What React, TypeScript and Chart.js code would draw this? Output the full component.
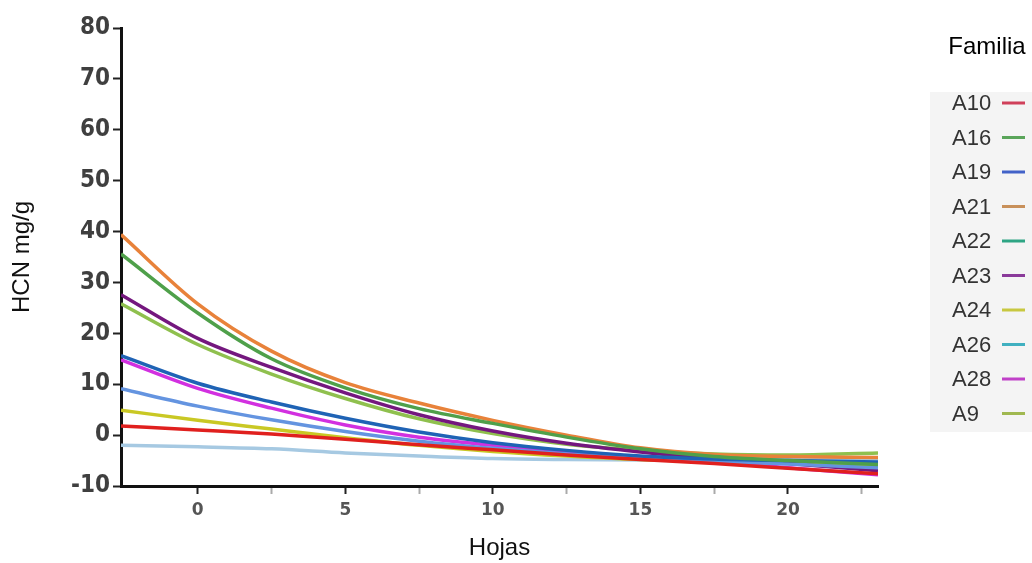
import React, { useEffect, useRef } from "react";
import { Chart, registerables } from "chart.js";

Chart.register(...registerables);

// ---- data ----
const hojas = [-2.6, 0, 2.5, 5, 7.5, 10, 12.5, 15, 17.5, 20, 23.05];
const familias = ["A10", "A16", "A19", "A21", "A22", "A23", "A24", "A26", "A28", "A9"];

const A10 = [1.8, 1.0, 0.2, -0.8, -1.9, -2.9, -3.9, -4.8, -5.6, -6.5, -7.6];
const A16 = [35.6, 24.0, 15.0, 9.3, 5.2, 2.3, -0.4, -2.7, -4.2, -5.0, -5.8];
const A19 = [15.6, 10.2, 6.5, 3.3, 0.6, -1.5, -3.0, -4.1, -4.7, -5.0, -5.3];
const A21 = [39.4, 25.8, 16.5, 10.3, 6.3, 2.9, 0.0, -2.5, -3.8, -4.2, -4.4];
const A22 = [9.1, 5.7, 3.0, 0.7, -1.2, -2.6, -3.7, -4.5, -5.1, -5.7, -6.4];
const A23 = [27.6, 19.0, 13.3, 8.3, 4.0, 0.8, -1.6, -3.3, -4.6, -5.6, -7.0];
const A24 = [4.9, 2.9, 1.2, -0.5, -2.0, -3.2, -4.1, -4.8, -5.2, -5.5, -6.0];
const A26 = [-2.0, -2.3, -2.7, -3.5, -4.1, -4.6, -4.8, -4.9, -4.9, -4.8, -4.7];
const A28 = [14.8, 9.2, 5.3, 2.0, -0.4, -2.0, -3.2, -4.3, -5.3, -6.4, -7.8];
const A9 = [25.8, 17.8, 12.0, 7.2, 3.2, 0.3, -1.8, -3.0, -3.7, -3.9, -3.5];

const seriesValues = [A10, A16, A19, A21, A22, A23, A24, A26, A28, A9];

const lineColors = [
  "#e0201e", // A10
  "#4fa04a", // A16
  "#1f63b5", // A19
  "#e8823a", // A21
  "#6494e0", // A22
  "#74177e", // A23
  "#c9c824", // A24
  "#a6c9e2", // A26
  "#d230e0", // A28
  "#8fc04e", // A9
];
const legendColors = [
  "#d0405a",
  "#5aa55a",
  "#4262c8",
  "#c8905a",
  "#2ea584",
  "#8a3a9a",
  "#c8c840",
  "#40b0c0",
  "#c040c8",
  "#a0b850",
];

const yMin = -10;
const yMax = 80;
const yStep = 10;
const xMin = -2.6;
const xMax = 23.05;
const xStep = 2.5;

const legendPlugin = {
  id: "familiaLegend",
  afterDraw(chart: any) {
    const ctx = chart.ctx as CanvasRenderingContext2D;
    const area = chart.chartArea;
    const left = area.right + 52;
    ctx.save();
    ctx.fillStyle = "#000";
    ctx.font = '24px "Liberation Sans", Arial, sans-serif';
    ctx.textAlign = "center";
    ctx.textBaseline = "middle";
    ctx.fillText("Familia", left + 57, 47);
    ctx.fillStyle = "#f4f4f4";
    ctx.fillRect(left, 92, chart.width - left, 340);
    ctx.font = '22px "Liberation Sans", Arial, sans-serif';
    ctx.textAlign = "left";
    familias.forEach((name, i) => {
      const y = 103 + i * 34.5;
      ctx.fillStyle = "#333";
      ctx.fillText(name, left + 22, y + 1);
      ctx.strokeStyle = legendColors[i];
      ctx.lineWidth = 3;
      ctx.beginPath();
      ctx.moveTo(left + 72, y);
      ctx.lineTo(left + 95, y);
      ctx.stroke();
    });
    ctx.restore();
  },
};

export default function App() {
  const ref = useRef<HTMLCanvasElement | null>(null);

  useEffect(() => {
    document.body.style.margin = "0";
    const canvas = ref.current;
    if (!canvas) return;
    const datasets = familias.map((name, i) => ({
      label: name,
      data: hojas.map((x, j) => ({ x, y: seriesValues[i][j] })),
      borderColor: lineColors[i],
      backgroundColor: lineColors[i],
      borderWidth: 3.5,
      pointRadius: 0,
      cubicInterpolationMode: "monotone" as const,
      fill: false,
    }));
    const chart = new Chart(canvas, {
      type: "line",
      data: { datasets },
      plugins: [legendPlugin],
      options: {
        responsive: false,
        animation: false,
        layout: { padding: { top: 28, right: 154, left: 0, bottom: 0 } },
        plugins: { legend: { display: false }, tooltip: { enabled: false } },
        scales: {
          x: {
            type: "linear",
            min: xMin,
            max: xMax,
            afterFit(scale: any) {
              scale.height = 77;
            },
            afterBuildTicks(scale: any) {
              const t: any[] = [];
              for (let v = 0; v <= xMax; v += xStep) t.push({ value: v });
              scale.ticks = t;
            },
            ticks: {
              stepSize: xStep,
              autoSkip: false,
              maxRotation: 0,
              padding: 6,
              color: "#555",
              font: { family: '"DejaVu Sans", sans-serif', size: 17, weight: "bold" },
              callback: (v: any) => (Number(v) % 5 === 0 ? String(v) : ""),
            },
            grid: {
              drawOnChartArea: false,
              drawTicks: true,
              tickLength: 8,
              tickWidth: 2,
              tickColor: (c: any) =>
                c.tick && c.tick.value % 5 === 0 ? "#222" : "#aaa",
            },
            border: { display: true, color: "#111", width: 3 },
            title: {
              display: true,
              text: "Hojas",
              color: "#111",
              font: { family: '"Liberation Sans", Arial, sans-serif', size: 24 },
              padding: { top: 0, bottom: 0 },
            },
          },
          y: {
            type: "linear",
            min: yMin,
            max: yMax,
            afterFit(scale: any) {
              scale.width = 121;
            },
            ticks: {
              stepSize: yStep,
              padding: 3,
              color: "#3f3f3f",
              font: {
                family: '"Liberation Sans Narrow", "DejaVu Sans Condensed", sans-serif',
                size: 24,
                weight: "bold",
              },
            },
            grid: {
              drawOnChartArea: false,
              drawTicks: true,
              tickLength: 8,
              tickWidth: 2,
              tickColor: "#222",
            },
            border: { display: true, color: "#111", width: 3 },
            title: {
              display: true,
              text: "HCN mg/g",
              color: "#111",
              font: { family: '"Liberation Sans", Arial, sans-serif', size: 24 },
              padding: { top: 8, bottom: 0 },
            },
          },
        },
      },
    });
    return () => chart.destroy();
  }, []);

  return (
    <div style={{ position: "fixed", left: 0, top: 0, width: 1032, height: 563, background: "#fff" }}>
      <canvas ref={ref} width={1032} height={563} style={{ display: "block" }} />
    </div>
  );
}
